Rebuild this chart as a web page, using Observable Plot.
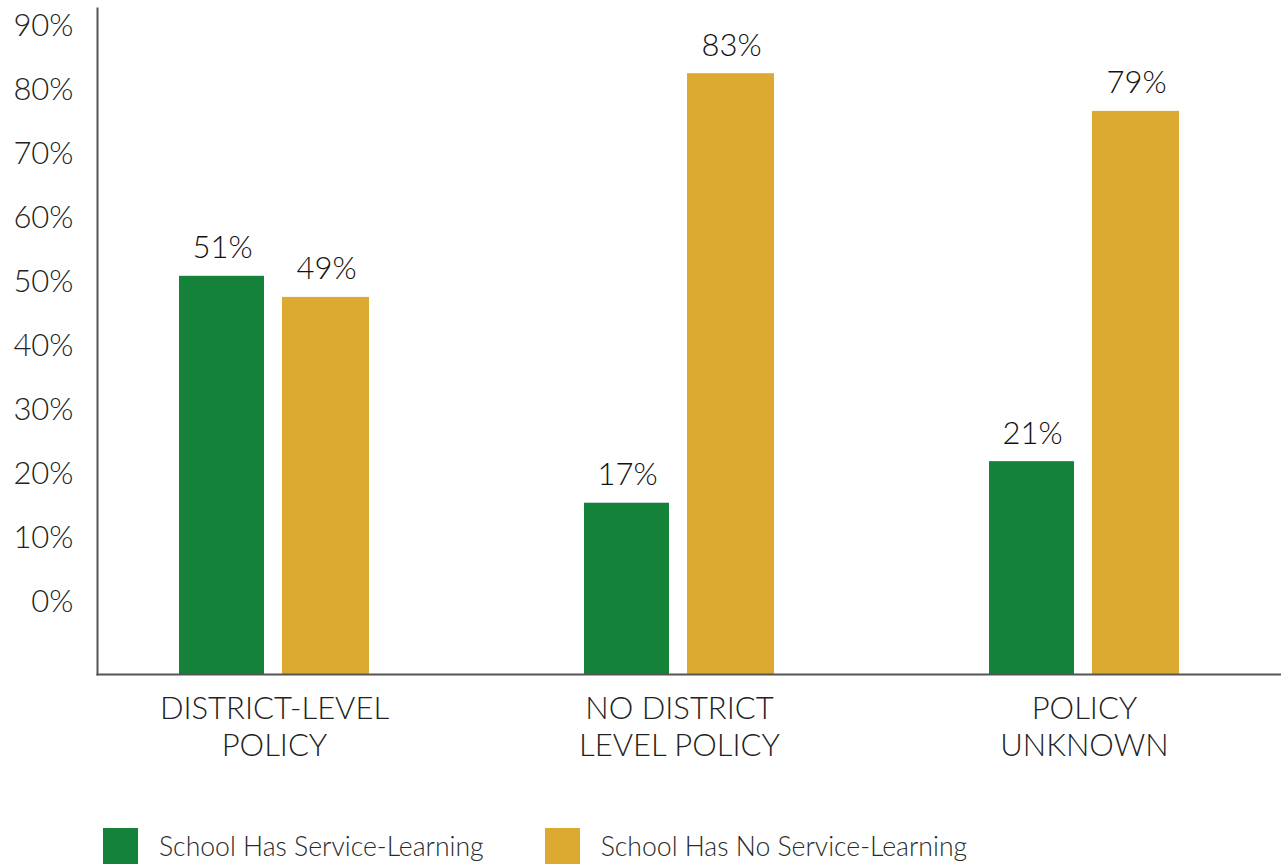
<!DOCTYPE html>
<html>
<head>
<meta charset="utf-8">
<script src="https://cdn.jsdelivr.net/npm/d3@7"></script>
<script src="https://cdn.jsdelivr.net/npm/@observablehq/plot@0.6"></script>
<style>
  html, body { margin: 0; padding: 0; background: #fff; }
  body { width: 1281px; height: 865px; overflow: hidden; font-family: Lato, "Open Sans", sans-serif; font-weight: 300; }
  #legend { display: flex; align-items: center; margin-top: 28px; padding-left: 103px; font-size: 26.6px; color: #2a2a2a; }
  .item { display: flex; align-items: center; }
  .sw { width: 35px; height: 36px; margin-right: 21px; }
  .item + .item { margin-left: 61px; }
  #chart svg text { font-weight: 300; }
</style>
</head>
<body>
<div id="chart"></div>
<div id="legend"></div>
<script>
// Data
const categories = ["DISTRICT-LEVEL\nPOLICY", "NO DISTRICT\nLEVEL POLICY", "POLICY\nUNKNOWN"];
const series = ["School Has Service-Learning", "School Has No Service-Learning"];
const hasSL = [50.9, 15.4, 21.9];          // bar heights as drawn
const noSL = [47.6, 82.6, 76.7];
const hasSLLabels = ["51%", "17%", "21%"]; // printed value labels
const noSLLabels = ["49%", "83%", "79%"];
const yTicks = [0, 10, 20, 30, 40, 50, 60, 70, 80, 90];
const colors = ["#15823a", "#dcaa30"];

const yMin = -11.4, yMax = 92.8;

const rowsHas = categories.map((c, i) => ({cat: c, v: hasSL[i], label: hasSLLabels[i]}));
const rowsNo = categories.map((c, i) => ({cat: c, v: noSL[i], label: noSLLabels[i]}));

const font = 'Lato, "Open Sans", sans-serif';

const chart = Plot.plot({
  width: 1281,
  height: 800,
  marginLeft: 97,
  marginRight: 1,
  marginTop: 8,
  marginBottom: 126,
  style: {fontFamily: font, background: "#fff", color: "#1a1a1a"},
  x: {domain: categories, paddingInner: 0.532, paddingOuter: 0.223, align: 0.4475, label: null},
  y: {domain: [yMin, yMax], label: null},
  marks: [
    Plot.barY(rowsHas, {x: "cat", y1: yMin, y2: "v", fill: colors[0], insetRight: 105}),
    Plot.barY(rowsNo, {x: "cat", y1: yMin, y2: "v", fill: colors[1], insetLeft: 103}),
    Plot.text(rowsHas, {x: "cat", y: "v", text: "label", dx: -52, dy: -18, lineAnchor: "bottom", fontSize: 31, fill: "#111"}),
    Plot.text(rowsNo, {x: "cat", y: "v", text: "label", dx: 52, dy: -18, lineAnchor: "bottom", fontSize: 31, fill: "#111"}),
    Plot.axisY({ticks: yTicks, tickFormat: d => d + "%", tickSize: 0, tickPadding: 24, fontSize: 31, fill: "#222"}),
    Plot.axisX({tickSize: 0, tickPadding: 18, fontSize: 31, fill: "#222", lineHeight: 1.2}),
    Plot.frame({anchor: "left", stroke: "#555", strokeWidth: 2}),
    Plot.frame({anchor: "bottom", stroke: "#555", strokeWidth: 2})
  ]
});
document.getElementById("chart").appendChild(chart);

const legend = document.getElementById("legend");
series.forEach((s, i) => {
  const item = document.createElement("div");
  item.className = "item";
  const sw = document.createElement("div");
  sw.className = "sw";
  sw.style.background = colors[i];
  const t = document.createElement("span");
  t.textContent = s;
  item.appendChild(sw);
  item.appendChild(t);
  legend.appendChild(item);
});
</script>
</body>
</html>
